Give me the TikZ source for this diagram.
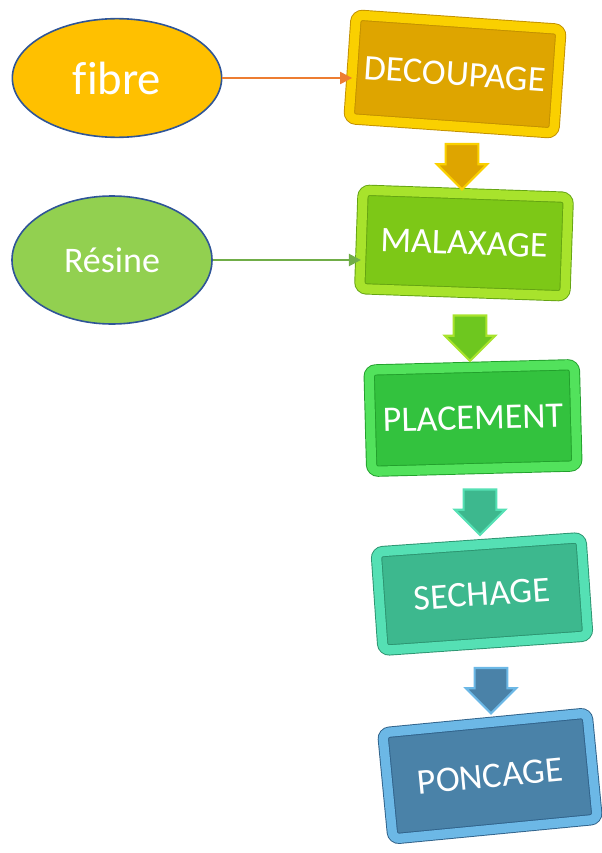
\documentclass[tikz,border=0pt]{standalone}
\usepackage{fontspec}
\setmainfont{Carlito}
\usetikzlibrary{shapes.geometric,shapes.arrows,arrows.meta}

\definecolor{ellblue}{HTML}{2F5597}
\definecolor{fibrefill}{HTML}{FFC000}
\definecolor{resinefill}{HTML}{92D050}
\definecolor{fibreline}{HTML}{ED7D31}
\definecolor{resineline}{HTML}{70AD47}
\definecolor{decface}{HTML}{DEA500}
\definecolor{decbevel}{HTML}{FAD000}
\definecolor{decedge}{HTML}{C29000}
\definecolor{malface}{HTML}{7DC817}
\definecolor{malbevel}{HTML}{A8E32C}
\definecolor{maledge}{HTML}{64A312}
\definecolor{plaface}{HTML}{33C23E}
\definecolor{plabevel}{HTML}{52E25C}
\definecolor{plaedge}{HTML}{22A02C}
\definecolor{secface}{HTML}{3DB88E}
\definecolor{secbevel}{HTML}{55E0B4}
\definecolor{secedge}{HTML}{2C9470}
\definecolor{ponface}{HTML}{4A82A8}
\definecolor{ponbevel}{HTML}{6CB8E6}
\definecolor{ponedge}{HTML}{30628A}

\begin{document}
\begin{tikzpicture}[x=0.75pt,y=-0.75pt]
            \tikzstyle{every node}+=[inner sep=0pt, text=white]
            \tikzstyle{stepbox}=[rectangle, rounded corners=5pt, minimum width=154pt, minimum height=78pt, line width=0.7pt, double distance=7pt, font=\fontsize{27}{32}\selectfont]
            \tikzstyle{flowarrow}=[single arrow, rotate=-90, minimum height=34pt, inner xsep=0pt, inner ysep=11.5pt, single arrow head extend=6.5pt, line width=1.6pt]
            \tikzstyle{inputell}=[ellipse, draw=ellblue, line width=1.2pt]
            \tikzstyle{feed}=[line width=1.6pt, -{Triangle[length=9pt, width=9pt]}]
            \useasboundingbox (0,0) rectangle (602,853);
            \node [inputell, fill=fibrefill, minimum width=157pt, minimum height=89pt, font=\fontsize{35}{42}\selectfont] (fibre) at (117,78) {f\kern0pt ibre};
            \node [inputell, fill=resinefill, minimum width=150pt, minimum height=96pt, font=\fontsize{27}{32}\selectfont] (resine) at (112,260) {Résine};
            \node [stepbox, rotate=-4, fill=decface, draw=decedge, double=decbevel] (dec) at (455,74) {DECOUPAGE};
            \node [stepbox, rotate=-2, fill=malface, draw=maledge, double=malbevel, minimum height=74pt] (mal) at (464,243) {MALAXAGE};
            \node [stepbox, rotate=1.5, fill=plaface, draw=plaedge, double=plabevel, minimum height=76pt] (pla) at (473,418) {PLACEMENT};
            \node [stepbox, rotate=4, fill=secface, draw=secedge, double=secbevel, minimum height=74pt] (sec) at (482,594) {SECHAGE};
            \node [stepbox, rotate=5.5, fill=ponface, draw=ponedge, double=ponbevel, minimum height=80pt] (pon) at (490,776) {PONCAGE};
            \node [flowarrow, fill=decface, draw=decbevel] (a1) at (462,158.5) {};
            \node [flowarrow, fill=malface!80!plaface, draw=malbevel] (a2) at (470,330) {};
            \node [flowarrow, fill=secface, draw=secbevel] (a3) at (480,504) {};
            \node [flowarrow, fill=ponface, draw=ponbevel] (a4) at (491,682.5) {};
            \draw [feed, fibreline] (fibre) -- (fibre -| dec.west);
            \draw [feed, resineline] (resine) -- (resine -| mal.west);
        \end{tikzpicture}
\end{document}
